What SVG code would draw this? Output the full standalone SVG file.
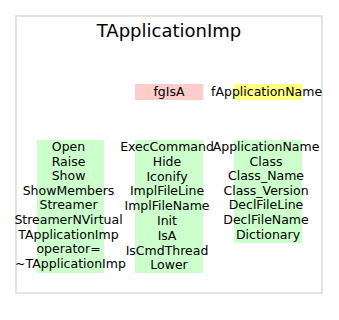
<svg xmlns="http://www.w3.org/2000/svg" width="339" height="320" viewBox="0 0 339 320">
  <style>
    text { font-family: "DejaVu Sans", sans-serif; font-size: 12.5px; fill: #000; }
    .title { font-size: 18px; }
    .mid { text-anchor: middle; }
    .frame { fill: #fff; stroke: #dcdcdc; stroke-width: 1.5; }
    .method { fill: #ccffcc; }
    .data { fill: #ffcccc; }
    .hilite { fill: #ffff80; }
  </style>
  <rect width="339" height="320" fill="#fff"/>
  <g id="class-frame">
    <rect class="frame" x="16" y="16" width="306" height="277"/>
    <text class="title mid" x="169" y="37">TApplicationImp</text>
  </g>
  <g id="data-members">
    <g id="fgIsA">
      <rect class="data" x="135" y="84" width="68" height="16"/>
      <text class="mid" x="169" y="96">fgIsA</text>
    </g>
    <g id="fApplicationName">
      <rect class="hilite" x="234" y="84" width="68" height="16"/>
      <text x="211" y="96">fApplicationName</text>
    </g>
  </g>
  <g id="methods-col1">
    <rect class="method" x="37" y="140" width="67" height="133"/>
    <text class="mid" x="70.5" y="151">
      <tspan x="70.5" dy="0">Open</tspan>
      <tspan x="70.5" dy="14.6">Raise</tspan>
      <tspan x="70.5" dy="14.6">Show</tspan>
      <tspan x="70.5" dy="14.6">ShowMembers</tspan>
      <tspan x="70.5" dy="14.6">Streamer</tspan>
      <tspan x="70.5" dy="14.6">StreamerNVirtual</tspan>
      <tspan x="70.5" dy="14.6">TApplicationImp</tspan>
      <tspan x="70.5" dy="14.6">operator=</tspan>
      <tspan x="70.5" dy="14.6">~TApplicationImp</tspan>
    </text>
  </g>
  <g id="methods-col2">
    <rect class="method" x="135" y="140" width="68" height="133"/>
    <text class="mid" x="169" y="151">
      <tspan x="169" dy="0">ExecCommand</tspan>
      <tspan x="169" dy="14.8">Hide</tspan>
      <tspan x="169" dy="14.8">Iconify</tspan>
      <tspan x="169" dy="14.8">ImplFileLine</tspan>
      <tspan x="169" dy="14.8">ImplFileName</tspan>
      <tspan x="169" dy="14.8">Init</tspan>
      <tspan x="169" dy="14.8">IsA</tspan>
      <tspan x="169" dy="14.8">IsCmdThread</tspan>
      <tspan x="169" dy="14.8">Lower</tspan>
    </text>
  </g>
  <g id="methods-col3">
    <rect class="method" x="234" y="140" width="68" height="103"/>
    <text class="mid" x="268" y="151">
      <tspan x="268" dy="0">ApplicationName</tspan>
      <tspan x="268" dy="14.6">Class</tspan>
      <tspan x="268" dy="14.6">Class_Name</tspan>
      <tspan x="268" dy="14.6">Class_Version</tspan>
      <tspan x="268" dy="14.6">DeclFileLine</tspan>
      <tspan x="268" dy="14.6">DeclFileName</tspan>
      <tspan x="268" dy="14.6">Dictionary</tspan>
    </text>
  </g>
</svg>
